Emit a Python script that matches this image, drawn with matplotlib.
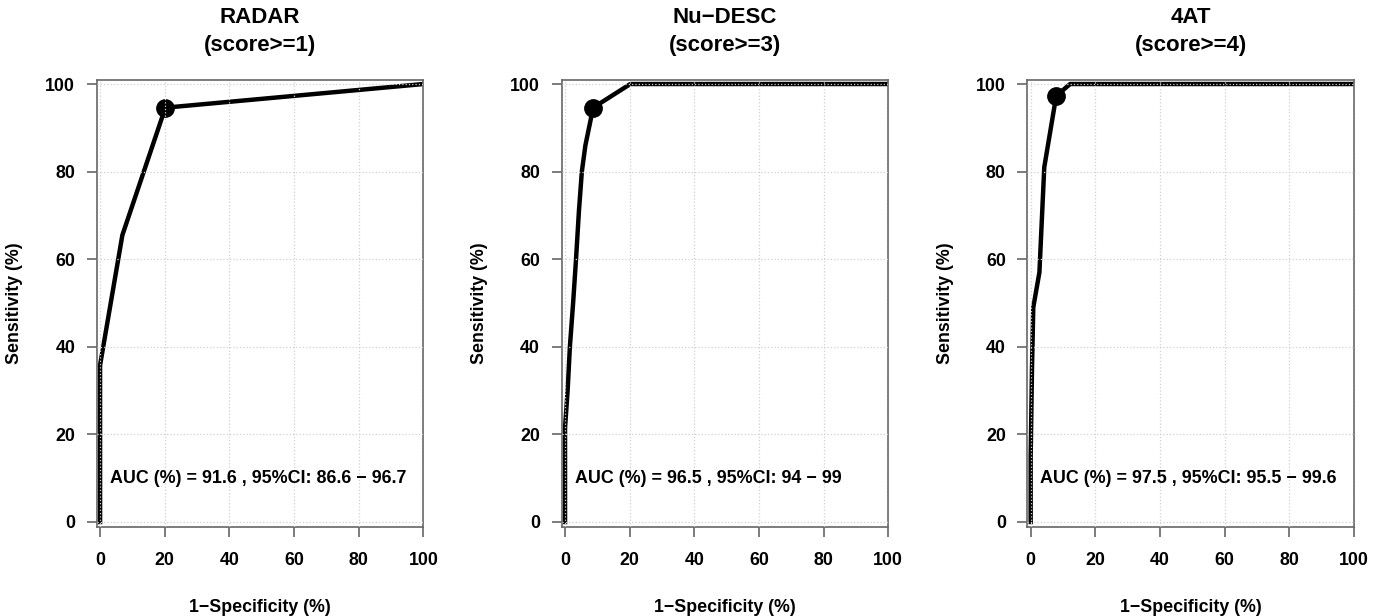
import matplotlib
matplotlib.use("Agg")
import matplotlib.pyplot as plt

plt.rcParams['font.family'] = ['Liberation Sans', 'DejaVu Sans']

# ROC curves: x = 1-specificity (%), y = sensitivity (%)
radar_fpr = [0, 0, 6.9, 20.2, 100]
radar_tpr = [0, 35.8, 65.5, 94.6, 100]
radar_best = (20.2, 94.6)

nudesc_fpr = [0, 0, 0.8, 1.5, 2.5, 3.4, 4.3, 5.2, 6.3, 8.7, 20.2, 100]
nudesc_tpr = [0, 21.5, 30, 40, 50, 60, 71, 80, 86, 94.6, 100, 100]
nudesc_best = (8.7, 94.6)

fourat_fpr = [0, 0, 0.4, 0.8, 2.7, 4.2, 7.9, 12.2, 100]
fourat_tpr = [0, 15, 35, 49, 57, 81, 97.3, 100, 100]
fourat_best = (7.9, 97.3)

titles = ["RADAR\n(score>=1)", "Nu\u2212DESC\n(score>=3)", "4AT\n(score>=4)"]
auc_texts = ["AUC (%) = 91.6 , 95%CI: 86.6 \u2212 96.7",
             "AUC (%) = 96.5 , 95%CI: 94 \u2212 99",
             "AUC (%) = 97.5 , 95%CI: 95.5 \u2212 99.6"]
ticks = [0, 20, 40, 60, 80, 100]

curves = [(radar_fpr, radar_tpr, radar_best),
          (nudesc_fpr, nudesc_tpr, nudesc_best),
          (fourat_fpr, fourat_tpr, fourat_best)]
lefts = [0.0699, 0.4061, 0.7428]

fig = plt.figure(figsize=(13.83, 6.16), dpi=100)

for i in range(3):
    fpr, tpr, best = curves[i]
    ax = fig.add_axes([lefts[i], 0.145, 0.2362, 0.725])
    ax.plot(fpr, tpr, color='black', linewidth=3.2, solid_joinstyle='round', zorder=2)
    ax.plot([best[0]], [best[1]], 'o', color='black', markersize=12.5, zorder=3)
    for t in ticks:
        ax.axvline(t, color='#d0d0d0', linestyle=':', linewidth=0.9, zorder=4)
        ax.axhline(t, color='#d0d0d0', linestyle=':', linewidth=0.9, zorder=4)
    ax.set_xlim(-1.05, 100)
    ax.set_ylim(-1.07, 100.9)
    ax.set_xticks(ticks)
    ax.set_yticks(ticks)
    ax.set_xticklabels([str(t) for t in ticks], fontsize=12.8, fontweight='bold')
    ax.set_yticklabels([str(t) for t in ticks], fontsize=12.8, fontweight='bold')
    ax.tick_params(axis='x', direction='out', length=7.5, width=1.2, color='#666666', pad=11)
    ax.tick_params(axis='y', direction='out', length=7.5, width=1.2, color='#666666', pad=8)
    for s in ax.spines.values():
        s.set_color('#666666')
        s.set_linewidth(1.2)
    ax.set_xlabel("1\u2212Specificity (%)", fontsize=12.8, fontweight='bold', labelpad=21)
    ax.set_ylabel("Sensitivity (%)", fontsize=12.8, fontweight='bold', labelpad=16)
    ax.set_title(titles[i], fontsize=16, fontweight='bold', pad=21, linespacing=1.45)
    ax.text(3, 10, auc_texts[i], fontsize=12.9, fontweight='bold', ha='left', va='center', zorder=6)

plt.savefig("out.png", dpi=100)
